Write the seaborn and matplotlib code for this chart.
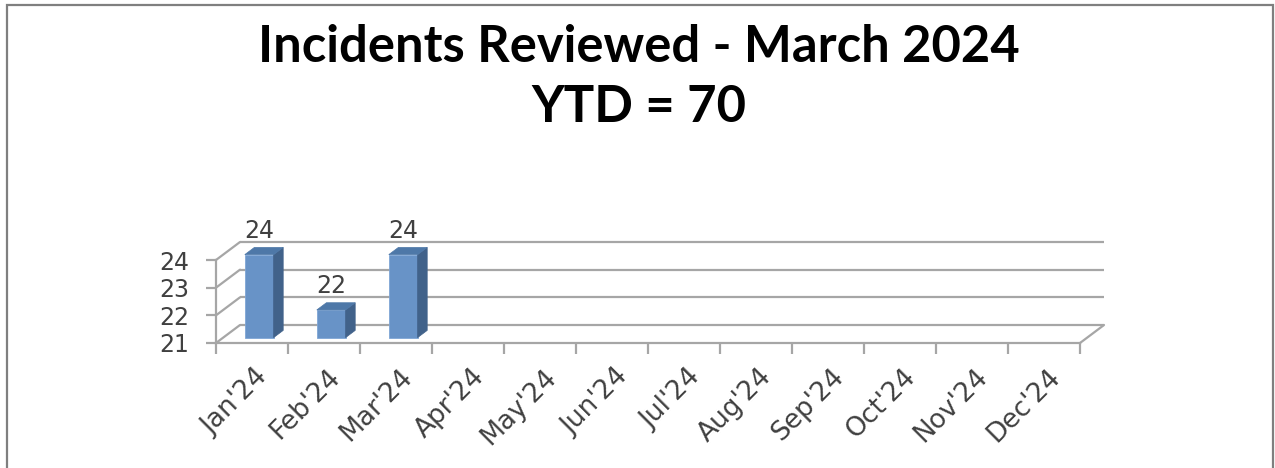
import numpy as np
import pandas as pd
import matplotlib
matplotlib.use("Agg")
import matplotlib.pyplot as plt
import seaborn as sns
from matplotlib.patches import Polygon, Rectangle
from matplotlib.transforms import ScaledTranslation

# ---- data ----
months = ["Jan'24", "Feb'24", "Mar'24", "Apr'24", "May'24", "Jun'24",
          "Jul'24", "Aug'24", "Sep'24", "Oct'24", "Nov'24", "Dec'24"]
reported_months = ["Jan'24", "Feb'24", "Mar'24"]
incidents = [24, 22, 24]
y_ticks = [21, 22, 23, 24]
title_line1 = "Incidents Reviewed - March 2024"
title_line2 = "YTD = 70"

# ---- style ----
sns.set_theme(style="white")
LABEL_FONT = ["DejaVu Sans"]
TITLE_FONT = ["Lato", "DejaVu Sans"]
plt.rcParams["font.family"] = LABEL_FONT
TXT = "#404040"
GRID = "#A6A6A6"
FRONT = "#6893C7"
SIDE = "#41628A"
TOP = "#4E78A8"

W, H = 1275, 468
fig = plt.figure(figsize=(W / 100, H / 100), dpi=100)
fig.patch.set_facecolor("white")

# axes = front plane of the 3-D box
ax = fig.add_axes([216 / W, (H - 343) / H, 864 / W, 83 / H])
ax.set_facecolor("none")

df = pd.DataFrame({"month": reported_months, "value": incidents})
BW = 0.4
sns.barplot(data=df, x="month", y="value", order=months, color=FRONT,
            width=BW, saturation=1, ax=ax, errorbar=None)

ymin, ymax = y_ticks[0], y_ticks[-1]
ax.set_xlim(-0.5, len(months) - 0.5)
ax.set_ylim(ymin, ymax)

DX, DY = 24 / 72, 18 / 27.67   # depth of the box in data units
f0, fd = 0.3, 0.4               # bar front depth fraction and bar depth fraction

# back wall gridlines and left wall diagonals
x0, x1 = -0.5, len(months) - 0.5
for yv in y_ticks:
    ax.plot([x0 + DX, x1 + DX], [yv + DY, yv + DY], color=GRID, lw=1.6,
            clip_on=False, zorder=1, solid_capstyle="butt")
    ax.plot([x0, x0 + DX], [yv, yv + DY], color=GRID, lw=1.6,
            clip_on=False, zorder=1)
# right floor diagonal
ax.plot([x1, x1 + DX], [ymin, ymin + DY], color=GRID, lw=1.6,
        clip_on=False, zorder=1)

# 3-D bars
for patch, v in zip(ax.patches, incidents):
    px = patch.get_x() + f0 * DX
    pw = patch.get_width()
    yb = ymin + f0 * DY
    yt = v + f0 * DY
    patch.set_x(px)
    patch.set_y(yb)
    patch.set_height(v - ymin)
    patch.set_clip_on(False)
    patch.set_zorder(3)
    patch.set_edgecolor("#7FA6D6")
    patch.set_linewidth(0.6)
    side = Polygon([(px + pw, yb), (px + pw + fd * DX, yb + fd * DY),
                    (px + pw + fd * DX, yt + fd * DY), (px + pw, yt)],
                   closed=True, facecolor=SIDE, edgecolor=SIDE, lw=0.5,
                   clip_on=False, zorder=3)
    top = Polygon([(px, yt), (px + pw, yt), (px + pw + fd * DX, yt + fd * DY),
                   (px + fd * DX, yt + fd * DY)],
                  closed=True, facecolor=TOP, edgecolor=TOP, lw=0.5,
                  clip_on=False, zorder=3)
    ax.add_patch(side)
    ax.add_patch(top)
    ax.text(px + pw / 2, v + 0.8, f"{v}", ha="center", va="baseline",
            fontsize=17, color=TXT, clip_on=False)

# axes lines and ticks
for s in ["top", "right"]:
    ax.spines[s].set_visible(False)
for s in ["left", "bottom"]:
    ax.spines[s].set_color(GRID)
    ax.spines[s].set_linewidth(1.6)
    ax.spines[s].set_zorder(2)

ax.set_yticks(y_ticks)
ax.set_yticklabels([str(t) for t in y_ticks], fontsize=17, color=TXT)
ax.tick_params(axis="y", direction="out", length=7, width=1.6, color=GRID,
               pad=12, left=True)

ax.set_xticks(range(len(months)))
ax.set_xticklabels(months, fontsize=19, color=TXT)
ax.set_xticks(np.arange(-0.5, len(months), 1.0), minor=True)
ax.tick_params(axis="x", which="major", length=0, pad=15)
ax.tick_params(axis="x", which="minor", direction="out", length=8,
               width=1.6, color=GRID, bottom=True)
off = ScaledTranslation(3 / 100, 0, fig.dpi_scale_trans)
for lab in ax.get_xticklabels():
    lab.set_rotation(45)
    lab.set_ha("right")
    lab.set_va("top")
    lab.set_rotation_mode("anchor")
    lab.set_transform(lab.get_transform() + off)

ax.set_xlabel("")
ax.set_ylabel("")

# titles
fig.text(639 / W, 1 - 62 / H, title_line1, ha="center", va="baseline",
         fontsize=36.5, fontweight="bold", color="black", family=TITLE_FONT)
fig.text(639 / W, 1 - 122 / H, title_line2, ha="center", va="baseline",
         fontsize=36.5, fontweight="bold", color="black", family=TITLE_FONT)

# chart border
fig.patches.append(Rectangle((7 / W, -0.05), (1273 - 7) / W, 1.05 - 5 / H,
                             transform=fig.transFigure, fill=False,
                             edgecolor="#7F7F7F", lw=1.6))

fig.savefig("out.png", dpi=100, facecolor="white")
